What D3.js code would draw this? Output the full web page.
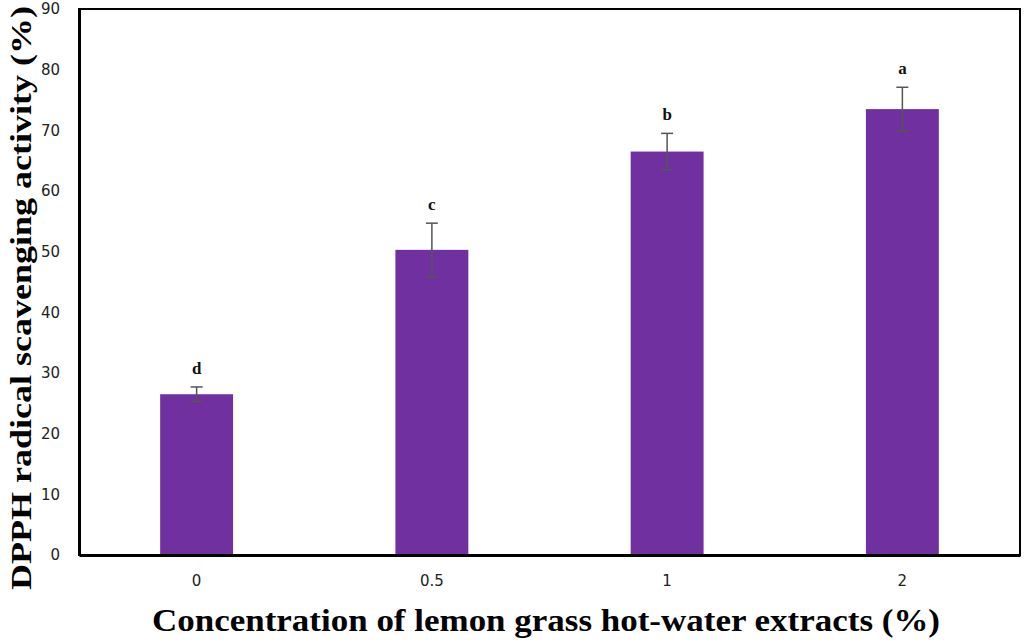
<!DOCTYPE html>
<html>
<head>
<meta charset="utf-8">
<script src="https://cdn.jsdelivr.net/npm/d3@7/dist/d3.min.js"></script>
<style>
  body { margin: 0; background: #fff; }
</style>
</head>
<body>
<script>
const categories = ["0", "0.5", "1", "2"];
const values = [26.5, 50.3, 66.5, 73.5];
const errors = [1.2, 4.4, 3.0, 3.6];
const letters = ["d", "c", "b", "a"];
const yTicks = [0, 10, 20, 30, 40, 50, 60, 70, 80, 90];

const width = 1024, height = 642;
const margin = { left: 79, right: 4, top: 9, bottom: 87 };

const svg = d3.select("body")
  .append("svg")
  .attr("width", width)
  .attr("height", height);

const x = d3.scaleBand()
  .domain(categories)
  .range([margin.left, width - margin.right])
  .paddingInner(0.69)
  .paddingOuter(0.345);

const y = d3.scaleLinear()
  .domain([0, 90])
  .range([height - margin.bottom, margin.top]);

const data = categories.map((c, i) => ({ c, v: values[i], e: errors[i], l: letters[i] }));

// bars
svg.selectAll(".bar")
  .data(data)
  .enter()
  .append("rect")
  .attr("class", "bar")
  .attr("fill", "#7030a0")
  .attr("x", (d) => x(d.c))
  .attr("width", x.bandwidth())
  .attr("y", (d) => y(d.v))
  .attr("height", (d) => y(0) - y(d.v));

// error bars
const err = svg.selectAll(".err")
  .data(data)
  .enter()
  .append("g")
  .attr("class", "err")
  .attr("stroke", "#555")
  .attr("stroke-width", 1.5);

err.append("line")
  .attr("x1", (d) => x(d.c) + x.bandwidth() / 2)
  .attr("x2", (d) => x(d.c) + x.bandwidth() / 2)
  .attr("y1", (d) => y(d.v + d.e))
  .attr("y2", (d) => y(d.v - d.e));
err.append("line")
  .attr("x1", (d) => x(d.c) + x.bandwidth() / 2 - 6)
  .attr("x2", (d) => x(d.c) + x.bandwidth() / 2 + 6)
  .attr("y1", (d) => y(d.v + d.e))
  .attr("y2", (d) => y(d.v + d.e));
err.append("line")
  .attr("x1", (d) => x(d.c) + x.bandwidth() / 2 - 6)
  .attr("x2", (d) => x(d.c) + x.bandwidth() / 2 + 6)
  .attr("y1", (d) => y(d.v - d.e))
  .attr("y2", (d) => y(d.v - d.e));

// significance letters
svg.selectAll(".letter")
  .data(data)
  .enter()
  .append("text")
  .attr("class", "letter")
  .attr("x", (d) => x(d.c) + x.bandwidth() / 2)
  .attr("y", (d) => y(d.v + d.e) - 13)
  .attr("text-anchor", "middle")
  .attr("font-family", "Liberation Serif, serif")
  .attr("font-weight", "bold")
  .attr("font-size", 17)
  .attr("fill", "#111")
  .text((d) => d.l);

// frame
svg.append("rect")
  .attr("x", margin.left)
  .attr("y", margin.top)
  .attr("width", width - margin.right - margin.left)
  .attr("height", height - margin.bottom - margin.top)
  .attr("fill", "none")
  .attr("stroke", "#000")
  .attr("stroke-width", 2);

// axes
const yAxis = svg.append("g")
  .attr("transform", `translate(${margin.left},0)`)
  .call(d3.axisLeft(y).tickValues(yTicks).tickSize(0).tickPadding(19));
yAxis.select(".domain").attr("stroke", "#000").attr("stroke-width", 3);
yAxis.selectAll("text")
  .attr("font-family", "DejaVu Sans, sans-serif")
  .attr("font-size", 15)
  .attr("fill", "#222");

const xAxis = svg.append("g")
  .attr("transform", `translate(0,${y(0)})`)
  .call(d3.axisBottom(x).tickSize(0).tickPadding(20));
xAxis.select(".domain").attr("stroke", "#000").attr("stroke-width", 3);
xAxis.selectAll("text")
  .attr("font-family", "DejaVu Sans, sans-serif")
  .attr("font-size", 15)
  .attr("fill", "#222");

// titles
svg.append("text")
  .attr("x", 546)
  .attr("y", 631)
  .attr("text-anchor", "middle")
  .attr("font-family", "Liberation Serif, serif")
  .attr("font-weight", "bold")
  .attr("font-size", 31)
  .attr("textLength", 788)
  .attr("lengthAdjust", "spacingAndGlyphs")
  .attr("fill", "#000")
  .text("Concentration of lemon grass hot-water extracts (%)");

svg.append("text")
  .attr("transform", "translate(31,298) rotate(-90)")
  .attr("text-anchor", "middle")
  .attr("font-family", "Liberation Serif, serif")
  .attr("font-weight", "bold")
  .attr("font-size", 29)
  .attr("textLength", 584)
  .attr("lengthAdjust", "spacingAndGlyphs")
  .attr("fill", "#000")
  .text("DPPH radical scavenging activity (%)");
</script>
</body>
</html>
